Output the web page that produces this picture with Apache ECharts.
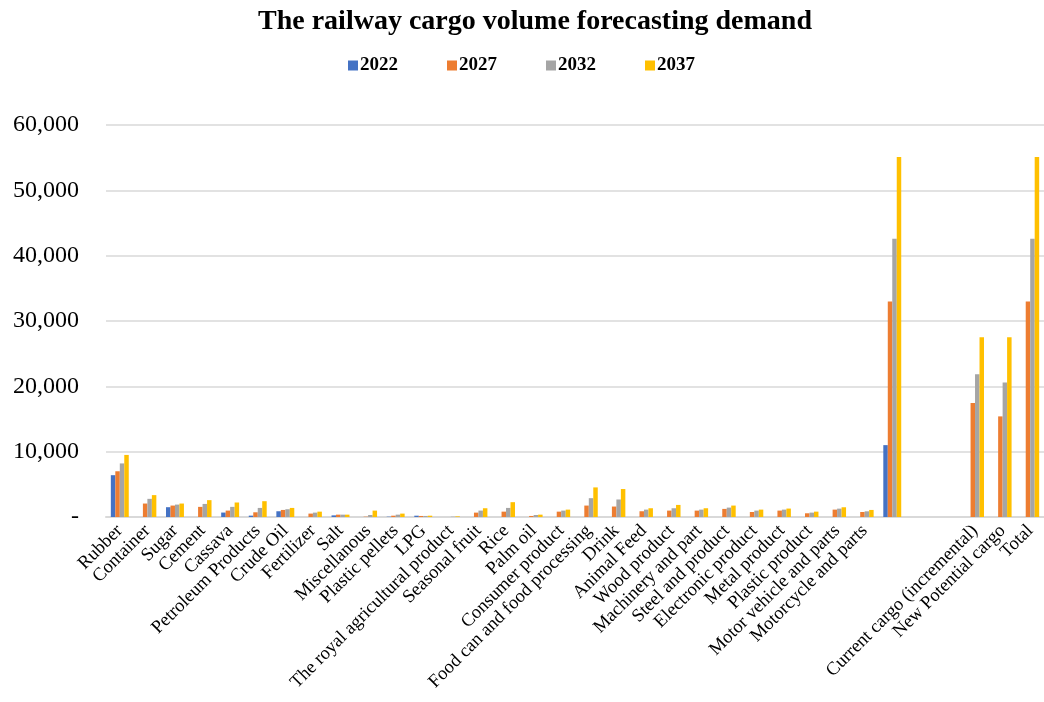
<!DOCTYPE html>
<html>
<head>
<meta charset="utf-8">
<title>The railway cargo volume forecasting demand</title>
<script src="https://cdn.jsdelivr.net/npm/echarts@6/dist/echarts.min.js"></script>
<style>
  html, body { margin: 0; padding: 0; background: #ffffff; }
  #chart { width: 1044px; height: 702px; }
</style>
</head>
<body>
<div id="chart"></div>
<script>
// Cargo groups (blank names are spacer / subtotal columns without a label)
const categories = [
  'Rubber', 'Container', 'Sugar', 'Cement', 'Cassava', 'Petroleum Products',
  'Crude Oil', 'Fertilizer', 'Salt', 'Miscellanous', 'Plastic pellets', 'LPG',
  'The royal agricultural product', 'Seasonal fruit', 'Rice', 'Palm oil',
  'Consumer product', 'Food can and food processing', 'Drink', 'Animal Feed',
  'Wood product', 'Machinery and part', 'Steel and product', 'Electronic product',
  'Metal product', 'Plastic product', 'Motor vehicle and parts', 'Motorcycle and parts',
  '', ' ', '  ', 'Current cargo (incremental)', 'New Potential cargo', 'Total'
];

const years = ['2022', '2027', '2032', '2037'];

const v2022 = [6400, 0, 1500, 0, 680, 210, 880, 0, 250, 0, 50, 200,
  0, 0, 0, 0, 0, 0, 0, 0, 0, 0, 0, 0, 0, 0, 0, 0,
  11000, null, null, 0, 0, 0];

const v2027 = [7000, 2060, 1750, 1550, 980, 720, 1080, 520, 360, 50, 200, 160,
  0, 670, 820, 160, 820, 1750, 1600, 880, 980, 980, 1240, 770, 980, 570, 1130, 770,
  33000, null, null, 17450, 15400, 33000];

const v2032 = [8200, 2780, 1900, 2000, 1550, 1390, 1190, 670, 360, 310, 360, 160,
  50, 980, 1390, 310, 980, 2880, 2680, 1130, 1340, 1130, 1440, 980, 1130, 670, 1280, 870,
  42600, null, null, 21850, 20600, 42600];

const v2037 = [9500, 3350, 2060, 2580, 2220, 2420, 1390, 820, 360, 980, 520, 200,
  100, 1340, 2270, 360, 1130, 4530, 4280, 1340, 1850, 1340, 1750, 1130, 1290, 820, 1490, 1080,
  55100, null, null, 27500, 27500, 55100];

const colors = ['#4472C4', '#ED7D31', '#A5A5A5', '#FFC000'];
const serif = "'Liberation Serif', 'Times New Roman', serif";

const chart = echarts.init(document.getElementById('chart'), null, { renderer: 'canvas' });

const seriesValues = [v2022, v2027, v2032, v2037];

chart.setOption({
  animation: false,
  backgroundColor: '#ffffff',
  color: colors,
  title: {
    text: 'The railway cargo volume forecasting demand',
    left: 530,
    textAlign: 'center',
    top: 3,
    textStyle: { fontFamily: serif, fontSize: 28, fontWeight: 'bold', color: '#000000' }
  },
  legend: {
    data: years,
    left: 343,
    top: 51,
    itemWidth: 10,
    itemHeight: 10,
    itemGap: 49,
    icon: 'rect',
    textStyle: { fontFamily: serif, fontSize: 19, fontWeight: 'bold', color: '#000000', padding: [0, 0, 0, -3] }
  },
  grid: { left: 106, right: -8, top: 125, bottom: 185, containLabel: false },
  xAxis: {
    type: 'category',
    data: categories,
    axisLine: { show: true, lineStyle: { color: '#d9d9d9', width: 2 } },
    axisTick: { show: false },
    axisLabel: {
      interval: 0,
      rotate: 45,
      margin: 11,
      fontFamily: serif,
      fontSize: 18.5,
      color: '#000000'
    }
  },
  yAxis: {
    type: 'value',
    min: 0,
    max: 60000,
    interval: 10000,
    axisLine: { show: false },
    axisTick: { show: false },
    splitLine: { lineStyle: { color: '#d9d9d9', width: 1.5 } },
    axisLabel: {
      margin: 27,
      fontFamily: serif,
      fontSize: 24,
      color: '#000000',
      formatter: v => (v === 0 ? '-' : v.toLocaleString('en-US'))
    }
  },
  series: years.map((y, i) => ({
    name: y,
    type: 'bar',
    data: seriesValues[i],
    barGap: '0%',
    barCategoryGap: '35%',
    itemStyle: { color: colors[i] }
  }))
});
</script>
</body>
</html>
